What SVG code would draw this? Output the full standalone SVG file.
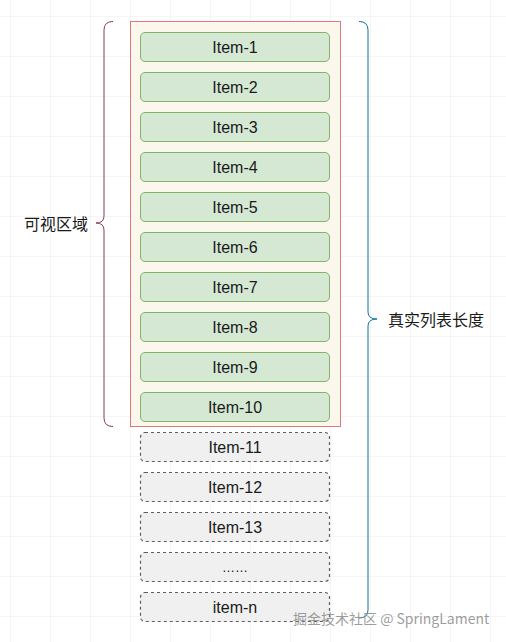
<svg xmlns="http://www.w3.org/2000/svg" width="506" height="642" viewBox="0 0 506 642">
<defs>
<pattern id="grid" x="10" y="16" width="40" height="40" patternUnits="userSpaceOnUse">
<path d="M0,0 H40 M0,0 V40" fill="none" stroke="#ebebeb" stroke-width="1"/>
</pattern>
</defs>
<style>
.item{fill:#d5e8d4;stroke:#82b366;stroke-width:1}
.ghost{fill:#f0f0f0;stroke:#5e5e5e;stroke-width:1.2;stroke-dasharray:3 3}
.t{font-family:"Liberation Sans",Arial,sans-serif;font-size:16px;fill:#1a1a1a;text-anchor:middle;dominant-baseline:central}
.cjk{font-family:"Noto Sans CJK SC","Liberation Sans",sans-serif;font-size:16px;fill:#1a1a1a;dominant-baseline:central}
</style>
<rect width="506" height="642" fill="#ffffff"/>
<rect width="506" height="642" fill="url(#grid)"/>
<g id="viewport">
<rect x="130.5" y="21.5" width="210" height="405" fill="#fcf7ec" stroke="#e07a7a" stroke-width="1"/>
</g>
<g id="item-1"><rect class="item" x="140.5" y="32.5" width="189" height="29" rx="4.5"/><text class="t" x="235" y="47">Item-1</text></g>
<g id="item-2"><rect class="item" x="140.5" y="72.5" width="189" height="29" rx="4.5"/><text class="t" x="235" y="87">Item-2</text></g>
<g id="item-3"><rect class="item" x="140.5" y="112.5" width="189" height="29" rx="4.5"/><text class="t" x="235" y="127">Item-3</text></g>
<g id="item-4"><rect class="item" x="140.5" y="152.5" width="189" height="29" rx="4.5"/><text class="t" x="235" y="167">Item-4</text></g>
<g id="item-5"><rect class="item" x="140.5" y="192.5" width="189" height="29" rx="4.5"/><text class="t" x="235" y="207">Item-5</text></g>
<g id="item-6"><rect class="item" x="140.5" y="232.5" width="189" height="29" rx="4.5"/><text class="t" x="235" y="247">Item-6</text></g>
<g id="item-7"><rect class="item" x="140.5" y="272.5" width="189" height="29" rx="4.5"/><text class="t" x="235" y="287">Item-7</text></g>
<g id="item-8"><rect class="item" x="140.5" y="312.5" width="189" height="29" rx="4.5"/><text class="t" x="235" y="327">Item-8</text></g>
<g id="item-9"><rect class="item" x="140.5" y="352.5" width="189" height="29" rx="4.5"/><text class="t" x="235" y="367">Item-9</text></g>
<g id="item-10"><rect class="item" x="140.5" y="392.5" width="189" height="29" rx="4.5"/><text class="t" x="235" y="407">Item-10</text></g>
<g id="item-11"><rect class="ghost" x="140.5" y="432.5" width="189" height="29" rx="4.5"/><text class="t" x="235" y="447">Item-11</text></g>
<g id="item-12"><rect class="ghost" x="140.5" y="472.5" width="189" height="29" rx="4.5"/><text class="t" x="235" y="487">Item-12</text></g>
<g id="item-13"><rect class="ghost" x="140.5" y="512.5" width="189" height="29" rx="4.5"/><text class="t" x="235" y="527">Item-13</text></g>
<g id="item-more"><rect class="ghost" x="140.5" y="552.5" width="189" height="29" rx="4.5"/><text class="t" x="235" y="567" style="font-size:13px">……</text></g>
<g id="item-n"><rect class="ghost" x="140.5" y="592.5" width="189" height="29" rx="4.5"/><text class="t" x="235" y="607">item-n</text></g>
<g id="connectors">
<path d="M113,21.5 Q104,21.5 104,30 L104,216 Q104,223 96,223 Q104,223 104,230 L104,418 Q104,426.5 113,426.5" fill="none" stroke="#8c3b5c" stroke-width="1"/>
<path d="M359,21.5 Q368,21.5 368,30 L368,312 Q368,319 377,319 Q368,319 368,326 L368,610 Q368,618 359,618" fill="none" stroke="#10739e" stroke-width="1"/>
</g>
<g id="label-visible"><text class="cjk" x="24" y="223">可视区域</text></g>
<g id="label-total"><text class="cjk" x="388" y="319">真实列表长度</text></g>
<g id="watermark"><text x="293" y="618" font-family="'Noto Sans CJK SC','Noto Sans',sans-serif" font-size="14" fill="#8a8a8a" fill-opacity="0.85" dominant-baseline="central">掘金技术社区 @ SpringLament</text></g>
</svg>
